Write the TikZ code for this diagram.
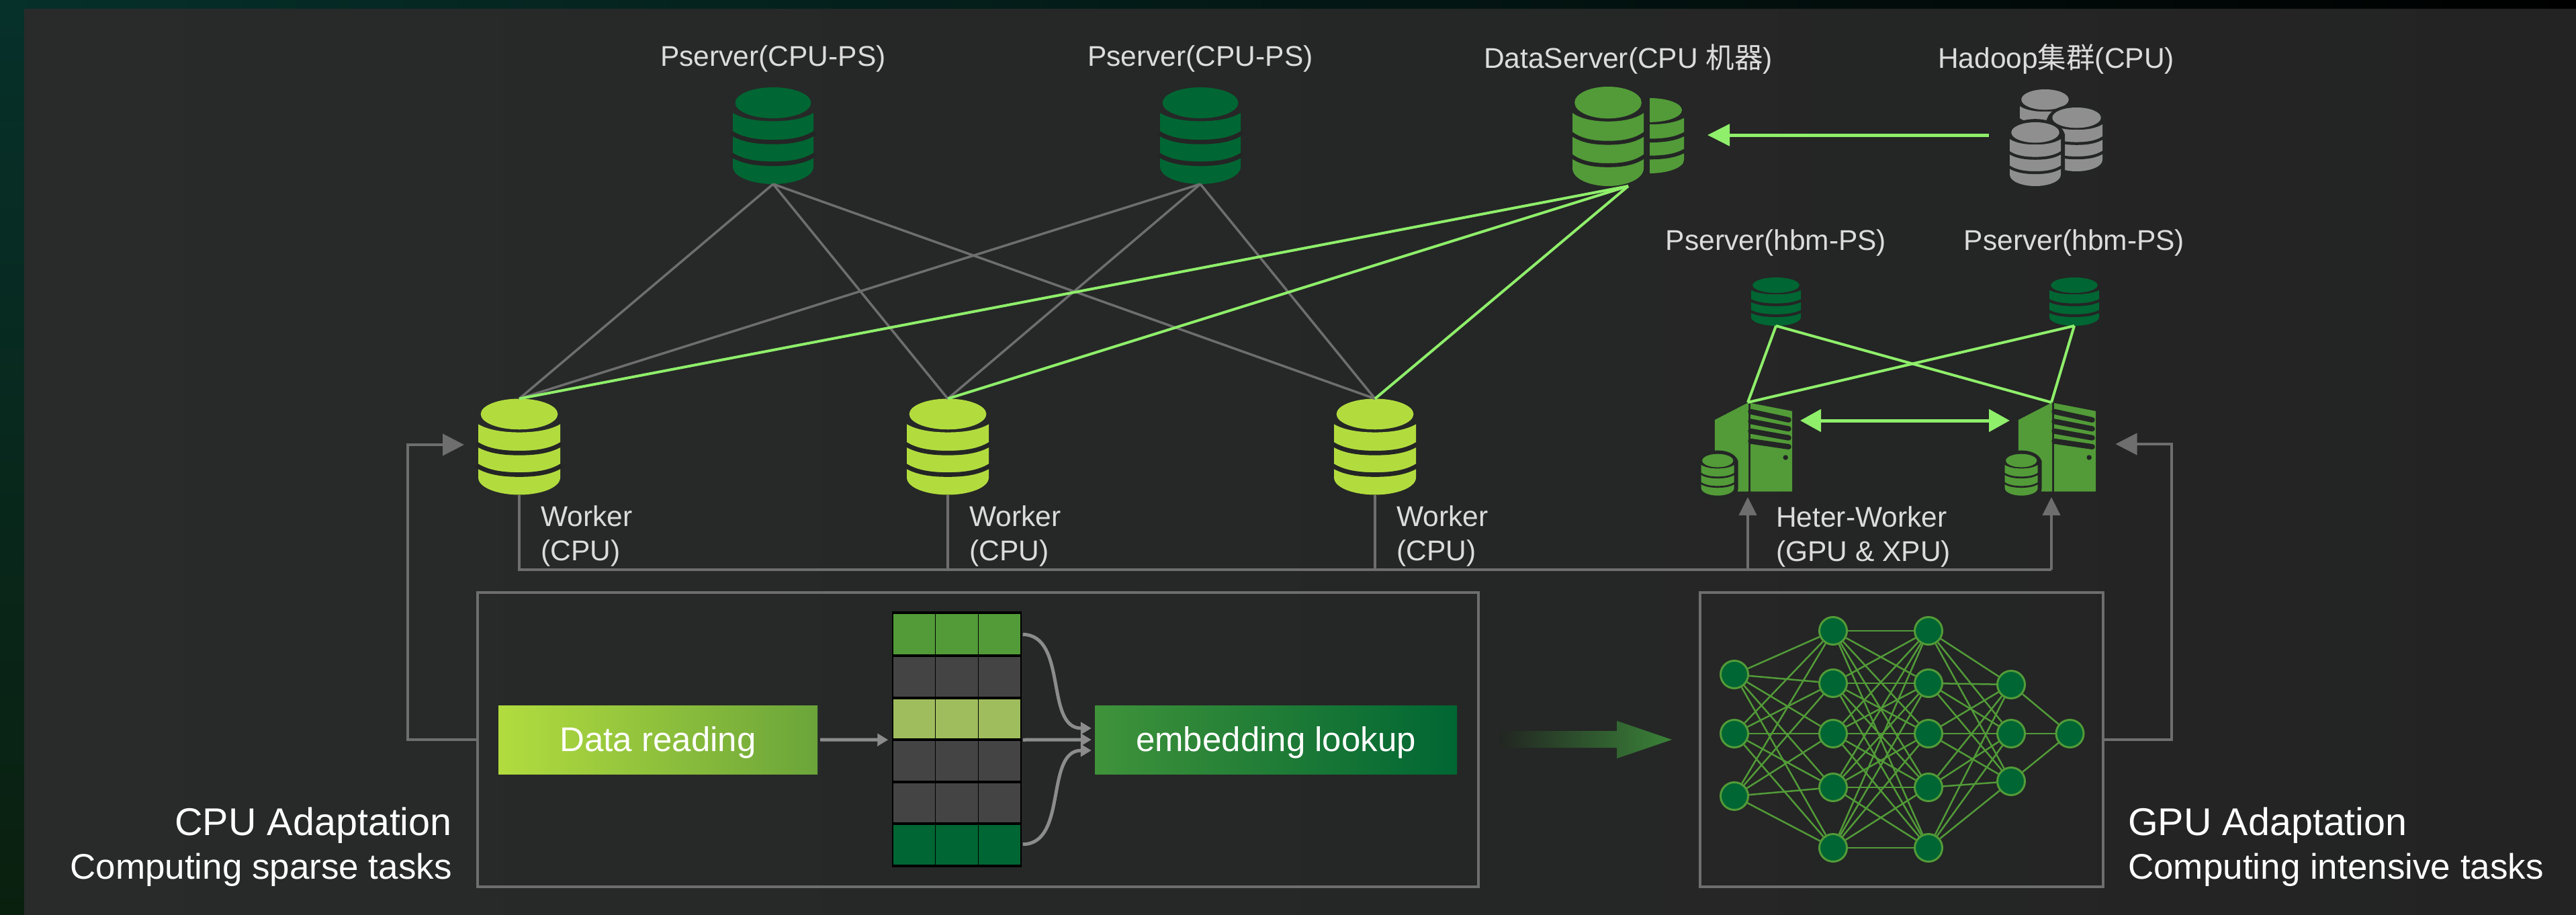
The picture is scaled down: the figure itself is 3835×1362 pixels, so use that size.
\documentclass[tikz,border=0pt]{standalone}
\usepackage{fontspec}
\setmainfont{Liberation Sans}
\newfontfamily\cjk{Noto Sans CJK SC}
\usetikzlibrary{fit,positioning,arrows.meta}

\definecolor{gapcol}{HTML}{242525}
\definecolor{psgreen}{HTML}{006633}
\definecolor{dsgreen}{HTML}{529B38}
\definecolor{wkgreen}{HTML}{B2DC3E}
\definecolor{hdgray}{HTML}{8E8F8E}
\definecolor{linkgreen}{HTML}{8FEF6B}
\definecolor{barcol}{HTML}{6E6E6E}
\definecolor{flowcol}{HTML}{8C8C8C}
\definecolor{labgray}{HTML}{DCDCDC}
\definecolor{cellgray}{HTML}{444444}
\definecolor{celllight}{HTML}{9FBD5C}
\definecolor{toptint}{HTML}{06302A}
\definecolor{topmid}{HTML}{001A1F}
\definecolor{leftlow}{HTML}{0A200F}
\definecolor{panelleft}{HTML}{282B2A}
\definecolor{panelright}{HTML}{232323}
\definecolor{readend}{HTML}{6BA53A}
\definecolor{embstart}{HTML}{3F933A}
\definecolor{fadestart}{HTML}{222622}
\definecolor{fademid}{HTML}{1F3A22}
\definecolor{fadeend}{HTML}{3A8238}

\tikzset{
  lab/.style={text=labgray,inner sep=0pt,font={\fontsize{42.5}{51}\selectfont}},
  toplab/.style={lab,text depth=0pt},
  sidelab/.style={lab,align=left,anchor=north west},
  bighead/.style={text=white,inner sep=0pt,font={\fontsize{57.5}{60}\selectfont}},
  bigsub/.style={text=white,inner sep=0pt,font={\fontsize{53}{60}\selectfont}},
  graybar/.style={draw=barcol,line width=4pt},
  greenlink/.style={draw=linkgreen,line width=4pt},
  groupbox/.style={draw=barcol,line width=4pt},
  flow/.style={draw=flowcol,line width=5pt,-{Triangle[length=16pt,width=18pt]}},
  stagebox/.style={minimum width=475pt,minimum height=102pt,inner sep=0pt,text=white,text height=44pt,text depth=10pt,font={\fontsize{51}{55}\selectfont}},
  gridcell/.style={draw=black,line width=1.5pt,minimum width=63.67pt,minimum height=62.5pt,inner sep=0pt},
  neuron/.style={circle,fill=psgreen,draw=dsgreen,line width=3pt,minimum size=41pt,inner sep=0pt},
  nnedge/.style={draw=dsgreen,line width=2.5pt},
}

\newcommand{\dbicon}[6]{%
  \node[inner sep=0pt,outer sep=0pt,minimum width=#4pt,minimum height=#5pt] (#1) at (#2,#3) {};
  \begin{scope}[shift={(#1.north west)},x=#4pt,y=-#5pt]
    \fill[#6] (0,.265) -- (0,.82) .. controls (0,.93) and (.25,1) .. (.5,1) .. controls (.75,1) and (1,.93) .. (1,.82) -- (1,.265) .. controls (.88,.325) and (.7,.35) .. (.5,.35) .. controls (.3,.35) and (.12,.325) .. cycle;
    \draw[gapcol,line width=#4*.055pt] (-.02,.47) .. controls (.12,.545) and (.3,.565) .. (.5,.565) .. controls (.7,.565) and (.88,.545) .. (1.02,.47);
    \draw[gapcol,line width=#4*.055pt] (-.02,.695) .. controls (.12,.77) and (.3,.79) .. (.5,.79) .. controls (.7,.79) and (.88,.77) .. (1.02,.695);
    \fill[#6] (.5,.16) ellipse (.47 and .16);
  \end{scope}
}
\newcommand{\dbcut}[4]{%
  \begin{scope}[shift={(#1,#2)},x=#3pt,y=-#4pt]
    \draw[gapcol,fill=gapcol,line width=12pt] (-.5,-.3) .. controls (-.4,-.55) and (.4,-.55) .. (.5,-.3) -- (.5,.32) .. controls (.5,.43) and (.25,.5) .. (0,.5) .. controls (-.25,.5) and (-.5,.43) .. (-.5,.32) -- cycle;
  \end{scope}
}
\newcommand{\servericon}[3]{%
  \begin{scope}[shift={(#2,#3)}]
    \fill[dsgreen] (33.3,35) -- (81.7,10) -- (83.5,10) -- (83.5,141.7) -- (33.3,141.7) -- cycle;
    \fill[dsgreen] (86.7,10) -- (148.7,22) -- (148.7,141.7) -- (86.7,141.7) -- cycle;
    \foreach \ya/\yb in {22.7/35,37.3/48.3,51.7/61.7,66.7/75} {
      \draw[gapcol,line width=8pt,line cap=round] (86.7,\ya) -- (143.3,\yb);
    }
    \fill[gapcol] (138.7,91) circle (3.7);
    \coordinate (#1top) at (82.5,9);
    \node[inner sep=0pt,outer sep=0pt,minimum width=116pt,minimum height=132pt] (#1) at (91,76) {};
    \dbcut{37.7}{116.7}{49}{62}
    \dbicon{#1db}{37.7}{116.7}{49}{62}{dsgreen}
  \end{scope}
}

\begin{document}
\begin{tikzpicture}[x=1pt,y=-1pt]
  \useasboundingbox (0,0) rectangle (3835,1362);
  \shade[left color=toptint,middle color=topmid,right color=black] (0,0) rectangle (3835,14);
  \shade[top color=toptint,bottom color=leftlow] (0,14) rectangle (36,1362);
  \shade[left color=panelleft,middle color=gapcol,right color=panelright] (36,14) rectangle (3835,1362);

  % servers
  \dbicon{ps1}{1151}{202}{120}{144}{psgreen}
  \dbicon{ps2}{1787}{202}{120}{144}{psgreen}
  \dbicon{w1}{773}{665}{122}{143}{wkgreen}
  \dbicon{w2}{1411}{665}{122}{143}{wkgreen}
  \dbicon{w3}{2047}{665}{122}{143}{wkgreen}
  \begin{scope}
    \clip (2456,100) rectangle (2520,300);
    \dbicon{dsback}{2456}{202}{102}{112}{dsgreen}
  \end{scope}
  \dbicon{dsfront}{2394}{203}{106}{148}{dsgreen}
  \node[fit=(dsfront)(dsback),inner sep=0pt,outer sep=0pt] (ds) {};
  \dbicon{hd1}{3044.5}{180.5}{75}{95}{hdgray}
  \dbcut{3091.5}{207.5}{77}{95}
  \dbicon{hd2}{3091.5}{207.5}{77}{95}{hdgray}
  \dbcut{3030}{229.5}{76}{95}
  \dbicon{hd3}{3030}{229.5}{76}{95}{hdgray}
  \node[fit=(hd1)(hd2)(hd3),inner sep=0pt,outer sep=0pt] (hd) {};
  \dbicon{hb1}{2644}{449}{74}{72}{psgreen}
  \dbicon{hb2}{3088}{449}{74}{72}{psgreen}
  \servericon{hw1}{2519.5}{590}
  \servericon{hw2}{2971.5}{590}

  % labels
  \node[toplab,above=31pt of ps1] (ps1lab) {Pserver(CPU-PS)};
  \node[toplab,above=31pt of ps2] (ps2lab) {Pserver(CPU-PS)};
  \node[toplab,above=27pt of ds] (dslab) {DataServer(CPU {\cjk 机器})};
  \node[toplab,above=31pt of hd] (hdlab) {Hadoop{\cjk 集群}(CPU)};
  \node[toplab,above=40.5pt of hb1] (hb1lab) {Pserver(hbm-PS)};
  \node[toplab,above=40.5pt of hb2] (hb2lab) {Pserver(hbm-PS)};
  \node[sidelab] (w1lab) at ([xshift=32pt,yshift=-16pt]w1.south) {Worker\\(CPU)};
  \node[sidelab] (w2lab) at ([xshift=32pt,yshift=-16pt]w2.south) {Worker\\(CPU)};
  \node[sidelab] (w3lab) at ([xshift=32pt,yshift=-16pt]w3.south) {Worker\\(CPU)};
  \node[sidelab] (hwlab) at (2644,753) {Heter-Worker\\(GPU \& XPU)};

  % links
  \foreach \p in {ps1,ps2} {
    \foreach \w in {w1,w2,w3} {
      \draw[graybar,line width=3.5pt] (\p.south) -- (\w.north);
    }
  }
  \foreach \w in {w1,w2,w3} {
    \draw[greenlink] (ds.south) -- (\w.north);
  }
  \foreach \h in {hb1,hb2} {
    \foreach \t in {hw1top,hw2top} {
      \draw[greenlink] (\h.south) -- (\t);
    }
  }
  \draw[greenlink,line width=5pt,shorten <=31pt,shorten >=35pt,-{Triangle[length=33pt,width=32pt]}] ([yshift=2pt]hd.west |- ds.east) -- ([yshift=2pt]ds.east);
  \draw[greenlink,line width=5pt,shorten <=11.5pt,shorten >=12.5pt,{Triangle[length=31pt,width=33pt]}-{Triangle[length=31pt,width=33pt]}] ([yshift=40pt]hw1.east) -- ([yshift=40pt]hw2.west);

  % bus under the workers
  \coordinate (bus) at (0,848);
  \draw[graybar] (w1.south) |- (hw2top |- bus);
  \draw[graybar] (w2.south) -- (w2.south |- bus);
  \draw[graybar] (w3.south) -- (w3.south |- bus);
  \draw[graybar,shorten >=8pt,-{Triangle[length=27pt,width=26pt]}] (hw1top |- bus) -- (hw1top |- hw1.south);
  \draw[graybar,shorten >=8pt,-{Triangle[length=27pt,width=26pt]}] (hw2top |- bus) -- (hw2top |- hw2.south);

  % cpu part
  \node[groupbox,minimum width=1490pt,minimum height=438pt] (cpubox) at (1456,1101) {};
  \node[stagebox,left color=wkgreen,right color=readend] (read) at (979.5,1101) {Data reading};
  \foreach \c [count=\r] in {dsgreen,cellgray,celllight,cellgray,cellgray,psgreen} {
    \foreach \k in {1,2,3} {
      \node[gridcell,fill=\c] (cell\r\k) at ({1329+(\k-.5)*63.67},{913+(\r-.5)*62.5}) {};
    }
  }
  \draw[black,line width=4pt] (cell11.north west) -- (cell13.north east);
  \foreach \r in {1,...,6} {
    \draw[black,line width=4pt] (cell\r1.south west) -- (cell\r3.south east);
  }
  \node[stagebox,minimum width=539pt,left color=embstart,right color=psgreen] (embed) at (1899.5,1101) {embedding lookup};
  \draw[flow,shorten <=4pt,shorten >=6pt] (read.east) -- (cell31.south west);
  \draw[flow,shorten <=2pt,shorten >=5pt] (cell33.south east) -- (embed.west);
  \draw[flow,shorten <=2pt,shorten >=5pt] (cell13.east) .. controls (1590,946) and (1555,1084) .. ([yshift=17pt]embed.west);
  \draw[flow,shorten <=2pt,shorten >=5pt] (cell63.east) .. controls (1590,1256) and (1555,1117) .. ([yshift=-16pt]embed.west);
  \draw[graybar,shorten >=21pt,-{Triangle[length=32pt,width=32pt]}] (cpubox.west) -- ++(-102,0) |- ([yshift=3pt]w1.west);
  \node[bighead,anchor=base east] (cpuhead) at (673,1243) {CPU Adaptation};
  \node[bigsub,anchor=base east] (cpusub) at (673,1308) {Computing sparse tasks};

  \shade[left color=fadestart,middle color=fademid,right color=fadeend] (2233,1088) -- (2407,1088) -- (2407,1073) -- (2489,1101) -- (2407,1129) -- (2407,1113) -- (2233,1113) -- cycle;

  % gpu part
  \node[groupbox,minimum width=600pt,minimum height=438pt] (gpubox) at (2831,1101) {};
  \foreach \l/\xp/\ylist in {a/2582/{1004,1092,1185},b/2729/{939,1017,1092,1172,1262},c/2871/{939,1017,1092,1172,1262},d/2994/{1019,1092,1163},e/3081.5/{1092}} {
    \foreach \yp [count=\i] in \ylist {
      \node[neuron] (\l\i) at (\xp,\yp) {};
    }
  }
  \foreach \s/\ns/\t/\nt in {a/3/b/5,b/5/c/5,c/5/d/3,d/3/e/1} {
    \foreach \i in {1,...,\ns} {
      \foreach \j in {1,...,\nt} {
        \draw[nnedge] (\s\i) -- (\t\j);
      }
    }
  }
  \draw[graybar,shorten >=29pt,-{Triangle[length=32pt,width=32pt]}] (gpubox.east) -- ++(100,0) |- ([yshift=5pt]hw2.east);
  \node[bighead,anchor=base west] (gpuhead) at (3168,1243) {GPU Adaptation};
  \node[bigsub,anchor=base west] (gpusub) at (3168,1308) {Computing intensive tasks};
\end{tikzpicture}
\end{document}
